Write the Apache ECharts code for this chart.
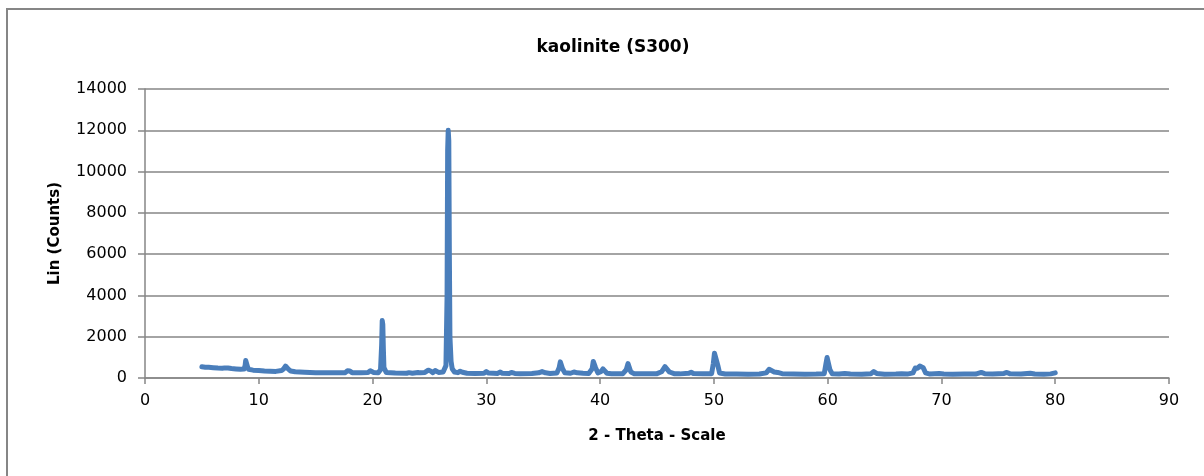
<!DOCTYPE html>
<html>
<head>
<meta charset="utf-8">
<script src="https://cdn.jsdelivr.net/npm/echarts@6/dist/echarts.min.js"></script>
<style>
html,body{margin:0;padding:0;background:#fff;}
#chart{width:1204px;height:476px;}
</style>
</head>
<body>
<div id="chart"></div>
<script>
const chartTitle = 'kaolinite (S300)';
const xAxisName = '2 - Theta - Scale';
const yAxisName = 'Lin (Counts)';
const xTicks = [0, 10, 20, 30, 40, 50, 60, 70, 80, 90];
const yTicks = [0, 2000, 4000, 6000, 8000, 10000, 12000, 14000];

// [2-theta, counts]
const scanLow = [
  [5.0,540],[5.3,520],[5.6,515],[6.0,500],[6.4,480],[6.8,470],[7.0,490],[7.3,480],[7.6,460],
  [8.0,440],[8.4,420],[8.7,430],[8.8,600],[8.85,850],[8.9,880],[8.95,820],[9.0,560],[9.1,420],
  [9.5,380],[10.0,360],[10.5,340],[11.0,330],[11.5,320],[12.0,360],[12.2,450],[12.35,580],
  [12.45,570],[12.6,430],[12.8,340],[13.2,300],[14.0,280],[15.0,260],[16.0,250],[17.0,250],
  [17.6,260],[17.8,350],[17.9,420],[18.0,340],[18.2,260],[19.0,250],[19.6,270],[19.8,350],
  [19.9,340],[20.1,270],[20.5,250],[20.7,400],[20.8,1600],[20.85,2780],[20.9,2600],[20.95,1400],
  [21.0,500],[21.2,270],[22.0,240],[23.0,230],[23.2,260],[23.5,230],[24.0,270],[24.2,250],
  [24.6,270],[24.9,380],[25.1,340],[25.3,260],[25.5,360],[25.6,330],[25.8,270],[26.2,290]
];
const scanMain = [
  [26.45,600],[26.55,4000],[26.6,11000],[26.65,12000],[26.7,11500],[26.75,6000],[26.8,2000],
  [26.9,800],[27.0,450],[27.2,290],[27.5,260],[27.7,330],[27.9,280],[28.3,230],[29.0,220],
  [29.8,230],[30.0,310],[30.2,240],[31.0,220],[31.2,290],[31.4,230],[32.0,220],[32.2,270],
  [32.5,220],[33.0,210],[34.0,220],[34.6,250],[34.9,310],[35.2,250],[35.6,220],[36.2,240],
  [36.4,500],[36.5,780],[36.6,760],[36.7,450],[36.9,250],[37.4,230],[37.7,290],[38.0,250],
  [38.5,230],[39.0,220],[39.3,450],[39.4,800],[39.5,820],[39.6,500],[39.8,250],[40.1,320],
  [40.25,440],[40.4,380],[40.6,230],[41.0,210],[42.0,210],[42.3,400],[42.45,700],[42.55,680],
  [42.7,290],[43.0,210],[44.0,200],[45.0,210],[45.4,300],[45.7,550],[45.85,540],[46.1,290],
  [46.5,210],[47.0,200],[47.8,230],[48.0,280],[48.2,220],[49.0,200],[49.8,210]
];
const scanHigh = [
  [49.95,700],[50.05,1200],[50.15,1150],[50.25,800],[50.35,600],[50.5,240],[51.0,190],
  [52.0,190],[53.0,180],[54.0,190],[54.6,250],[54.85,420],[55.0,400],[55.3,290],[55.6,270],
  [56.0,210],[57.0,190],[58.0,180],[59.0,190],[59.7,210],[59.85,700],[59.95,990],[60.05,950],
  [60.2,400],[60.4,210],[61.0,190],[61.5,220],[62.0,190],[63.0,180],[63.8,210],[64.05,310],
  [64.3,220],[65.0,180],[66.0,190],[66.5,210],[67.0,190],[67.5,250],[67.7,480],[67.9,470],
  [68.1,580],[68.25,640],[68.4,500],[68.6,250],[69.0,190],[69.8,220],[70.2,190],[71.0,180],
  [72.0,190],[73.0,190],[73.5,270],[73.8,210],[74.5,190],[75.5,220],[75.75,270],[76.0,210],
  [77.0,190],[77.8,230],[78.2,190],[79.0,180],[79.6,200],[80.0,250]
];
const scanData = scanLow.concat(scanMain, scanHigh);

const font = '"DejaVu Sans", sans-serif';
const gray = '#868686';

const chart = echarts.init(document.getElementById('chart'));
chart.setOption({
  animation: false,
  backgroundColor: '#fff',
  title: {
    text: chartTitle,
    left: 608, top: 34, textAlign: 'center',
    textStyle: {fontFamily: font, fontSize: 17, fontWeight: 'bold', color: '#000'}
  },
  grid: {left: 145, right: 35, top: 89, bottom: 98},
  xAxis: {
    type: 'value', min: xTicks[0], max: xTicks[xTicks.length - 1], interval: 10,
    name: xAxisName, nameLocation: 'middle', nameGap: 51,
    nameTextStyle: {fontFamily: font, fontSize: 15, fontWeight: 'bold', color: '#000'},
    axisLine: {show: true, onZero: false, lineStyle: {color: gray, width: 1.5}},
    axisTick: {show: true, length: 6, lineStyle: {color: gray, width: 1.5}},
    axisLabel: {fontFamily: font, fontSize: 16, color: '#000', margin: 15,
      formatter: function (v) { return String(v); }},
    splitLine: {show: false}
  },
  yAxis: {
    type: 'value', min: yTicks[0], max: yTicks[yTicks.length - 1], interval: 2000,
    name: yAxisName, nameLocation: 'middle', nameGap: 82, nameRotate: 90,
    nameTextStyle: {fontFamily: font, fontSize: 15, fontWeight: 'bold', color: '#000'},
    axisLine: {show: true, lineStyle: {color: gray, width: 1.5}},
    axisTick: {show: true, length: 7, lineStyle: {color: gray, width: 1.5}},
    axisLabel: {fontFamily: font, fontSize: 16, color: '#000', margin: 18,
      formatter: function (v) { return String(v); }},
    splitLine: {show: true, lineStyle: {color: gray, width: 1.5}}
  },
  graphic: [{
    type: 'polyline', silent: true,
    shape: {points: [[7, 476], [7, 9], [1204, 9]]},
    style: {stroke: gray, lineWidth: 2, fill: null}
  }],
  series: [{
    type: 'line', data: scanData, showSymbol: false, smooth: false,
    lineStyle: {color: '#4a7ebb', width: 5, cap: 'round', join: 'round'}
  }]
});
</script>
</body>
</html>
